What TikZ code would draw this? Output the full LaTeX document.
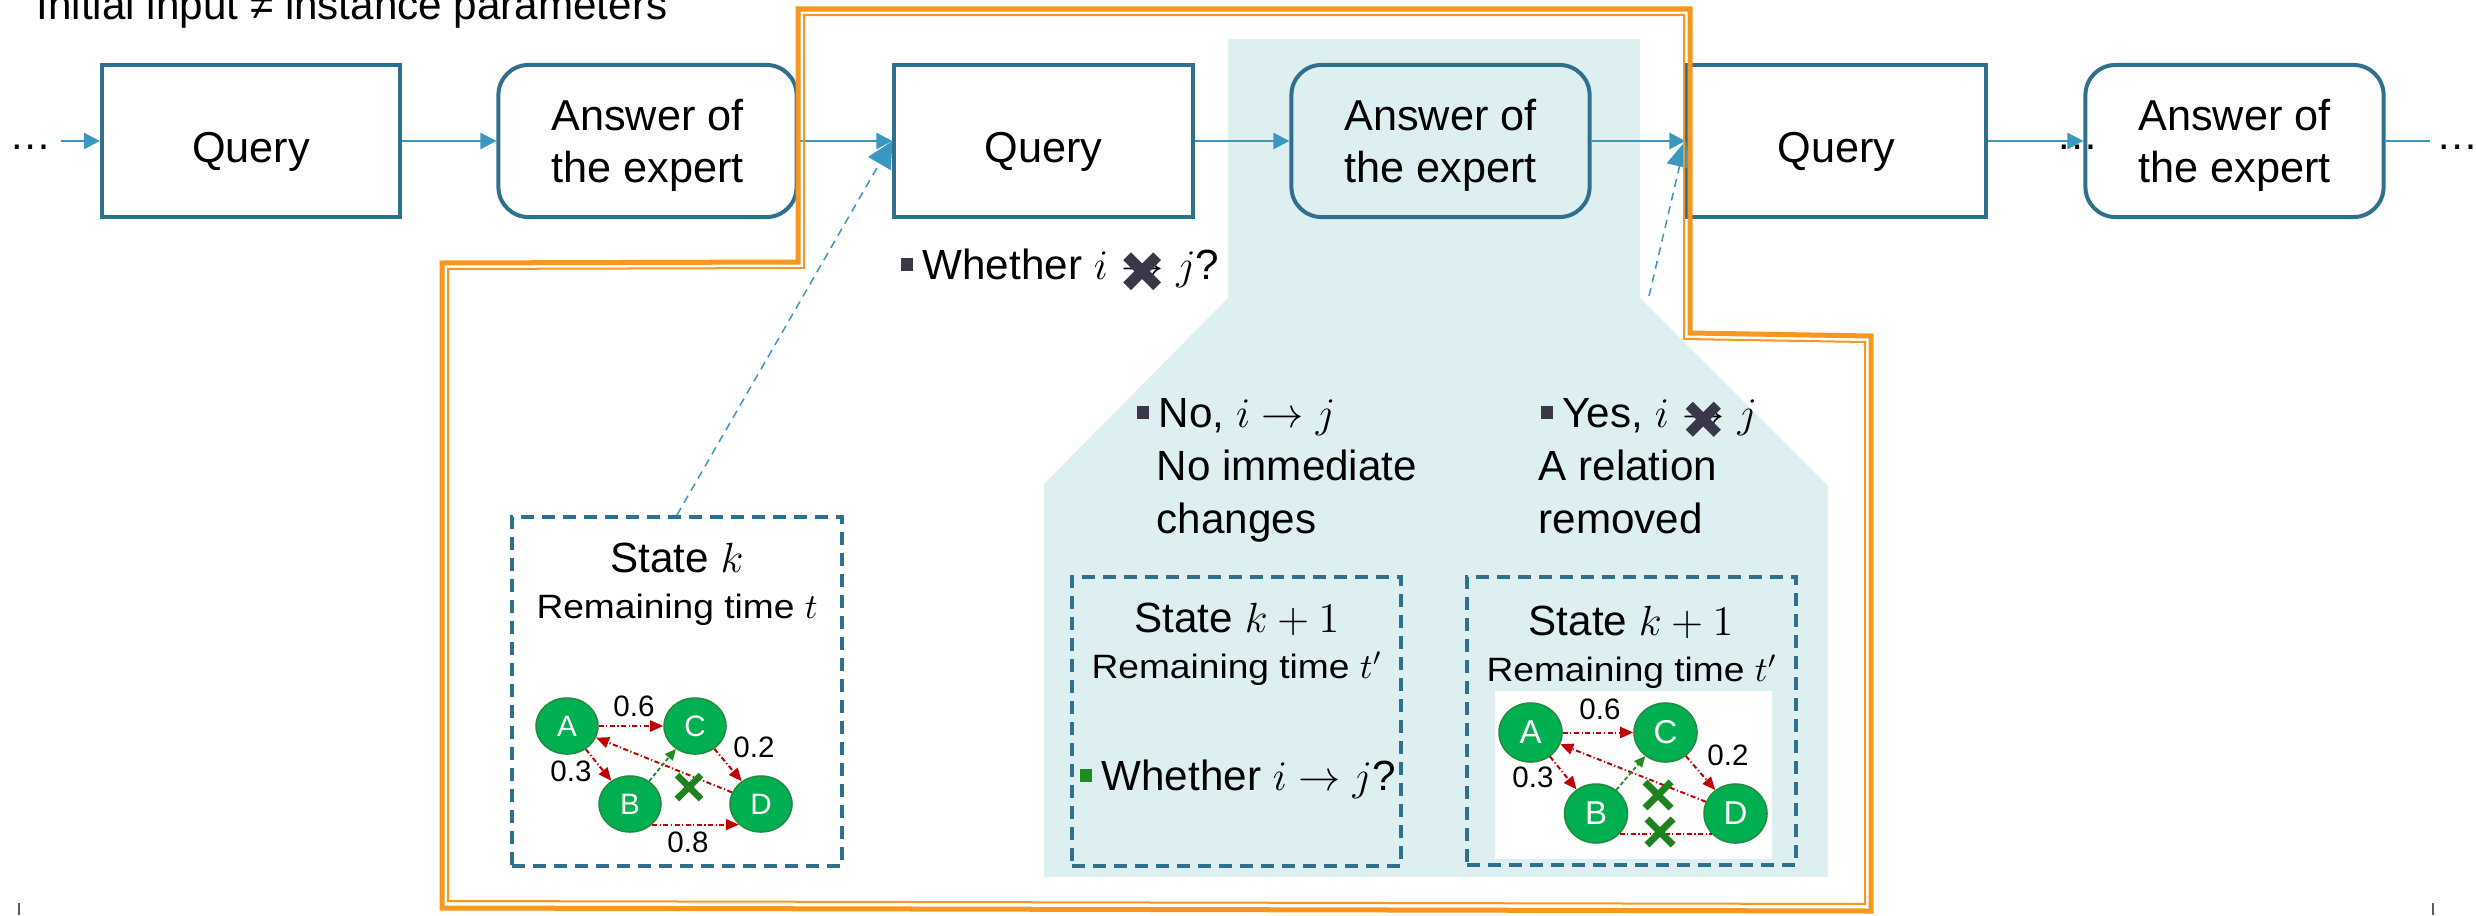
\documentclass[tikz,border=0pt]{standalone}
\usepackage{fontspec}
\setmainfont{Liberation Sans}
\newfontfamily\widesans[FakeStretch=1.1]{Liberation Sans}
\usetikzlibrary{arrows.meta,shapes.geometric}

\definecolor{boxteal}{RGB}{46,112,142}
\definecolor{flowblue}{RGB}{58,152,192}
\definecolor{tint}{RGB}{222,239,242}
\definecolor{frameorange}{RGB}{247,150,32}
\definecolor{nodegreen}{RGB}{0,176,80}
\definecolor{nodeedge}{RGB}{34,139,64}
\definecolor{edgered}{RGB}{192,0,0}
\definecolor{edgegreen}{RGB}{34,139,34}
\definecolor{crossgreen}{RGB}{30,130,30}
\definecolor{crossdark}{RGB}{58,56,72}
\definecolor{bulletdark}{RGB}{58,56,72}
\definecolor{bulletgreen}{RGB}{30,140,30}
\definecolor{tickgray}{RGB}{90,90,90}

% small square bullet in front of a text line
\newcommand\sqbullet[1]{\textcolor{#1}{\rule[0.2em]{0.3em}{0.3em}}\hspace{0.22em}}

\begin{document}
\begin{tikzpicture}[x=0.01cm,y=-0.01cm,
  stage/.style={draw=boxteal, line width=0.04cm, fill=white, minimum width=2.98cm,
    minimum height=1.52cm, align=center, inner sep=0, text depth=0pt,
    font=\fontsize{12.3}{14.8}\selectfont},
  answer/.style={stage, rounded corners=0.3cm},
  flow/.style={draw=flowblue, line width=0.025cm, -{Triangle[length=0.16cm,width=0.16cm]}},
  link/.style={draw=flowblue, line width=0.015cm, dash pattern=on 0.08cm off 0.06cm,
    -{Triangle[length=0.26cm,width=0.26cm]}},
  statebox/.style={draw=boxteal, line width=0.04cm, dash pattern=on 0.13cm off 0.08cm, inner sep=0},
  body/.style={font=\fontsize{12}{14.2}\selectfont, inner sep=0},
  small/.style={font=\widesans\fontsize{9.6}{11}\selectfont, inner sep=0},
  gnode/.style={ellipse, fill=nodegreen, draw=nodeedge, line width=0.015cm, minimum width=0.62cm,
    minimum height=0.56cm, inner sep=0, text=white, font=\fontsize{8.4}{9}\selectfont},
  bignode/.style={gnode, minimum width=0.63cm, minimum height=0.59cm, font=\fontsize{9.4}{10}\selectfont},
  wlabel/.style={font=\fontsize{8.4}{9}\selectfont, inner sep=0},
  redarc/.style={draw=edgered, line width=0.02cm, dash pattern=on 0.05cm off 0.025cm on 0.012cm off 0.025cm},
  redarrow/.style={redarc, -{Triangle[length=0.13cm,width=0.11cm]}},
  greenarrow/.style={draw=edgegreen, line width=0.018cm, dash pattern=on 0.04cm off 0.025cm,
    -{Triangle[length=0.11cm,width=0.1cm]}},
  xmark/.pic={\draw (-#1,-#1) -- (#1,#1) (-#1,#1) -- (#1,-#1);}
]
\useasboundingbox (0,0) rectangle (2476,915);

% tinted call-out behind the second answer
\fill[tint] (1228,39) -- (1640,39) -- (1640,298) -- (1828,486) -- (1828,877)
  -- (1044,877) -- (1044,484) -- (1228,298) -- cycle;

\node[body, anchor=base west] (header) at (36,19) {Initial input ≠ instance parameters};

% query / answer chain
\node[stage] (q1) at (251,141) {\raisebox{-0.12cm}{Query}};
\node[answer] (a1) at (647.5,141) {Answer of\\the expert};
\node[stage] (q2) at (1043.5,141) {\raisebox{-0.12cm}{Query}};
\node[answer, fill=tint] (a2) at (1440.5,141) {Answer of\\the expert};
\node[stage] (q3) at (1836.5,141) {\raisebox{-0.12cm}{Query}};
\node[answer] (a3) at (2234.5,141) {Answer of\\the expert};

\node[body, anchor=base west] (dl) at (9,149) {…};
\node[body, anchor=base west] (dm) at (2056,149) {…};
\node[body, anchor=base west] (dr) at (2436,149) {…};

\draw[flow, shorten <=0.08cm] (dl.east |- q1) -- (q1.west);
\draw[flow] (q1.east) -- (a1.west);
\draw[flow] (a1.east) -- (q2.west);
\draw[flow] (q2.east) -- (a2.west);
\draw[flow] (a2.east) -- (q3.west);
\draw[flow] (q3.east) -- (a3.west);
\draw[draw=flowblue, line width=0.025cm] (a3.east) -- ([xshift=-0.06cm]dr.west |- a3);

% question under the second query
\node[body, anchor=base west] (w1) at (900,279) {\sqbullet{bulletdark}Whether $i$};
\node[body, anchor=base west] (w1arr) at (w1.base east) {$\;\rightarrow\;$};
\node[body, anchor=base west] (w1end) at (w1arr.base east) {$j$?};
\pic[color=crossdark, line width=0.11cm] at (w1arr) {xmark=15};

% the two possible answers
\node[body, anchor=base west] (no1) at (1136,427) {\sqbullet{bulletdark}No, $i \rightarrow j$};
\node[body, anchor=base west] (no2) at (1156,480) {No immediate};
\node[body, anchor=base west] (no3) at (1156,533) {changes};

\node[body, anchor=base west] (yes1) at (1540,427) {\sqbullet{bulletdark}Yes, $i$};
\node[body, anchor=base west] (yesarr) at (yes1.base east) {$\;\rightarrow\;$};
\node[body, anchor=base west] (yesend) at (yesarr.base east) {$j$};
\pic[color=crossdark, line width=0.1cm] at (yesarr) {xmark=14};
\node[body, anchor=base west] (yes2) at (1538,480) {A relation};
\node[body, anchor=base west] (yes3) at (1538,533) {removed};

% state boxes
\node[statebox, minimum width=3.30cm, minimum height=3.49cm] (sk) at (677,691.5) {};
\node[statebox, minimum width=3.29cm, minimum height=2.89cm] (sn) at (1236.5,721.5) {};
\node[statebox, minimum width=3.29cm, minimum height=2.88cm] (sy) at (1631.5,721) {};

\node[body, anchor=base] (sktitle) at (677,572) {State $k$};
\node[small, anchor=base] (sktime) at (677,618) {Remaining time $t$};
\node[body, anchor=base] (sntitle) at (1237,632) {State $k+1$};
\node[small, anchor=base] (sntime) at (1237,678) {Remaining time $t'$};
\node[body, anchor=base west] (snq) at (1079,790) {\sqbullet{bulletgreen}Whether $i \rightarrow j$?};
\node[body, anchor=base] (sytitle) at (1631,635) {State $k+1$};
\node[small, anchor=base] (sytime) at (1632,681) {Remaining time $t'$};

% relation graph at state k
\node[gnode] (lA) at (567,726) {A};
\node[gnode] (lC) at (695,726) {C};
\node[gnode] (lB) at (630,804) {B};
\node[gnode] (lD) at (761,804) {D};
\draw[redarrow] (lA) -- (lC);
\draw[redarrow] (lA) -- (lB);
\draw[redarrow] (lD) -- (lA);
\draw[redarrow] (lC) -- (lD);
\draw[redarrow] (lB.-43) -- (lD.-137);
\draw[greenarrow] (lB) -- (lC);
\node[wlabel] (l06) at (634,706) {0.6};
\node[wlabel] (l03) at (571,771) {0.3};
\node[wlabel] (l02) at (754,747) {0.2};
\node[wlabel] (l08) at (688,842) {0.8};
\pic[color=crossgreen, line width=0.065cm] at (689,787) {xmark=12};

% relation graph after a removal
\fill[white] (1495,691) rectangle (1772,859);
\node[bignode] (rA) at (1530.5,732.5) {A};
\node[bignode] (rC) at (1665.5,732.5) {C};
\node[bignode] (rB) at (1596,813.5) {B};
\node[bignode] (rD) at (1735.5,813.5) {D};
\draw[redarrow] (rA) -- (rC);
\draw[redarrow] (rA) -- (rB);
\draw[redarrow] (rD) -- (rA);
\draw[redarrow] (rC) -- (rD);
\draw[redarc] (rB.-41) -- (rD.-139);
\draw[greenarrow] (rB) -- (rC);
\node[wlabel] (r06) at (1600,709) {0.6};
\node[wlabel] (r03) at (1533,777) {0.3};
\node[wlabel] (r02) at (1728,755) {0.2};
\pic[color=crossgreen, line width=0.07cm] at (1658,795) {xmark=13};
\pic[color=crossgreen, line width=0.07cm] at (1660,832) {xmark=13};

% dashed links from the states to the queries
\draw[link] (sk.north) -- (q2.west);
\coordinate (linkstart) at (1649,296);
\draw[link] (linkstart) -- (q3.west);

% orange frame around one query-answer step
\draw[frameorange, line width=0.05cm] (798,9) -- (1690,9) -- (1690,333) -- (1871,336)
  -- (1871,911) -- (442,908) -- (442,263) -- (798,262) -- cycle;
\draw[frameorange, line width=0.02cm] (804,15) -- (1684,15) -- (1684,339) -- (1865,342)
  -- (1865,904) -- (448,901) -- (448,269) -- (804,268) -- cycle;

% corner ticks
\draw[tickgray, line width=0.012cm] (19,903) -- (19,915);
\draw[tickgray, line width=0.012cm] (2433,903) -- (2433,915);
\end{tikzpicture}
\end{document}
